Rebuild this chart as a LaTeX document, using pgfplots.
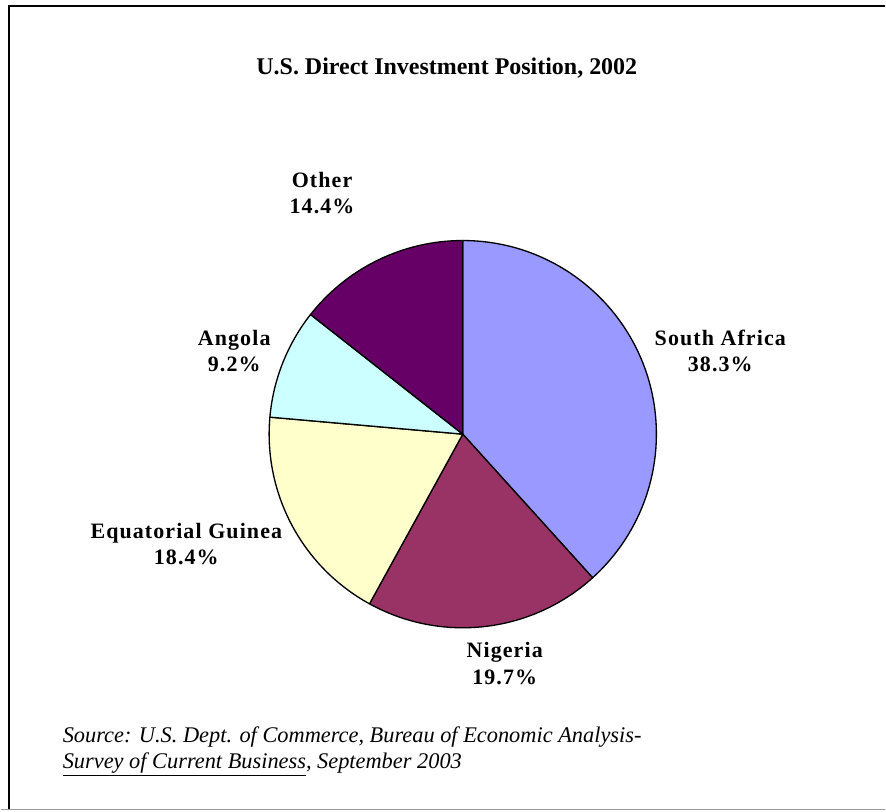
\documentclass[border=0pt]{standalone}
\usepackage{pgfplots}
\pgfplotsset{compat=1.18}
\usepackage{pgfplotstable}
\usepackage{fontspec}
\setmainfont{Liberation Serif}

\definecolor{pie0}{HTML}{9999FF}
\definecolor{pie1}{HTML}{993366}
\definecolor{pie2}{HTML}{FFFFCC}
\definecolor{pie3}{HTML}{CCFFFF}
\definecolor{pie4}{HTML}{660066}

% share of U.S. direct investment position, 2002 (percent), clockwise from 12 o'clock
\pgfplotstableread{
name pct
SouthAfrica 38.3
Nigeria 19.7
EquatorialGuinea 18.4
Angola 9.2
Other 14.4
}\piedata

\def\cumang{90}%
\foreach \i in {0,...,4}{%
  \pgfplotstablegetelem{\i}{pct}\of\piedata
  \pgfmathsetmacro{\wspan}{3.6*\pgfplotsretval}%
  \pgfmathsetmacro{\wendang}{\cumang-\wspan}%
  \expandafter\xdef\csname wstart\i\endcsname{\cumang}%
  \expandafter\xdef\csname wend\i\endcsname{\wendang}%
  \xdef\cumang{\wendang}%
}%

\newcommand{\lblfont}{\fontsize{16.5}{19}\selectfont\bfseries\addfontfeatures{LetterSpace=5}}
\newcommand{\srcfont}{\fontsize{16.8}{19}\selectfont\itshape}

\begin{document}
\begin{tikzpicture}
\begin{axis}[
  width=664.5pt, height=609pt, scale only axis,
  xmin=0, xmax=886, ymin=0, ymax=812, y dir=reverse,
  hide axis, clip=false,
]
\path (axis cs:0,0) rectangle (axis cs:886,812);
% frame
\draw[line width=1.6pt, black] (axis cs:8.5,812) -- (axis cs:8.5,6) -- (axis cs:886,6);
\draw[line width=1pt, black!40] (axis cs:0,811) -- (axis cs:886,811);

% pie wedges
\pgfplotsinvokeforeach{0,...,4}{
  \filldraw[fill=pie#1, draw=black, line width=1pt, line join=round]
    (axis cs:463,435) -- ++(\csname wstart#1\endcsname:145.5pt)
    arc[start angle=\csname wstart#1\endcsname, end angle=\csname wend#1\endcsname, radius=145.5pt] -- cycle;
}

% title
\node[anchor=base, font=\fontsize{18}{21}\selectfont\bfseries] at (axis cs:447,75) {U.S. Direct Investment Position, 2002};

% labels
\node[anchor=base, font=\lblfont] at (axis cs:322,188) {Other};
\node[anchor=base, font=\lblfont] at (axis cs:322,214) {14.4\%};
\node[anchor=base, font=\lblfont] at (axis cs:721,346) {South Africa};
\node[anchor=base, font=\lblfont] at (axis cs:721,372) {38.3\%};
\node[anchor=base, font=\lblfont] at (axis cs:234,346) {Angola};
\node[anchor=base, font=\lblfont] at (axis cs:234,372) {9.2\%};
\node[anchor=base, font=\lblfont] at (axis cs:186,540) {Equatorial Guinea};
\node[anchor=base, font=\lblfont] at (axis cs:186,566) {18.4\%};
\node[anchor=base, font=\lblfont] at (axis cs:505,659) {Nigeria};
\node[anchor=base, font=\lblfont] at (axis cs:505,686) {19.7\%};

% source
\node[anchor=base west, inner sep=0pt, font=\srcfont] at (axis cs:62,744) {Source: U.S. Dept. of Commerce, Bureau of Economic Analysis-};
\node[anchor=base west, inner sep=0pt, font=\srcfont] at (axis cs:62,770) {\underline{Survey of Current Business}, September 2003};
\end{axis}
\end{tikzpicture}
\end{document}
